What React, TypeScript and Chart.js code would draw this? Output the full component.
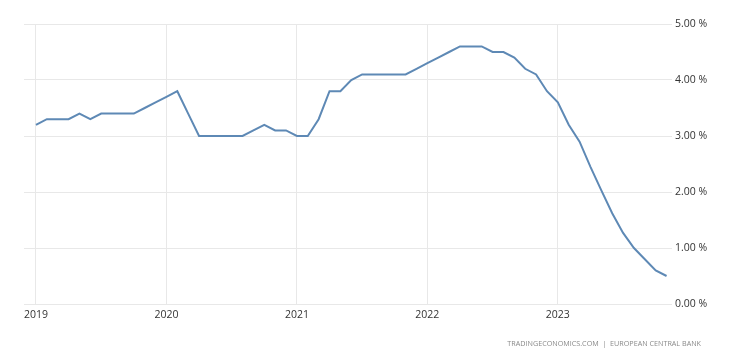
import React, { useEffect, useRef } from "react";
import { Chart, registerables } from "chart.js";

Chart.register(...registerables);

// Monthly observations starting January 2019 (index 0 = Jan 2019)
const startYear = 2019;
const rates: number[] = [
  3.2, 3.3, 3.3, 3.3, 3.4, 3.3, 3.4, 3.4, 3.4, 3.4, 3.5, 3.6, // 2019
  3.7, 3.8, 3.4, 3.0, 3.0, 3.0, 3.0, 3.0, 3.1, 3.2, 3.1, 3.1, // 2020
  3.0, 3.0, 3.3, 3.8, 3.8, 4.0, 4.1, 4.1, 4.1, 4.1, 4.1, 4.2, // 2021
  4.3, 4.4, 4.5, 4.6, 4.6, 4.6, 4.5, 4.5, 4.4, 4.2, 4.1, 3.8, // 2022
  3.6, 3.2, 2.9, 2.45, 2.03, 1.62, 1.27, 1.0, 0.8, 0.6, 0.5,  // 2023
];
const yearTicks: number[] = [2019, 2020, 2021, 2022, 2023];
const yTicks: number[] = [0, 1, 2, 3, 4, 5];
const sourceText = "TRADINGECONOMICS.COM  |  EUROPEAN CENTRAL BANK";

export default function App() {
  const ref = useRef<HTMLCanvasElement | null>(null);
  useEffect(() => {
    if (!ref.current) return;
    const points = rates.map((v, i) => ({ x: i, y: v }));
    const chart = new Chart(ref.current, {
      type: "line",
      data: {
        datasets: [
          {
            data: points,
            borderColor: "#5e89b5",
            borderWidth: 2,
            pointRadius: 0,
            tension: 0,
            fill: false,
          },
        ],
      },
      options: {
        animation: false,
        responsive: false,
        maintainAspectRatio: false,
        layout: { padding: { left: 24, right: 20, top: 24, bottom: 30 } },
        plugins: { legend: { display: false }, tooltip: { enabled: false } },
        scales: {
          x: {
            type: "linear",
            min: -1.1,
            max: 58.5,
            afterBuildTicks: (scale: any) => {
              scale.ticks = yearTicks.map((y) => ({ value: (y - startYear) * 12 }));
            },
            afterFit: (scale: any) => {
              scale.height = 30;
            },
            grid: { color: "#e8e8e8", drawTicks: false, lineWidth: 1 },
            border: { display: false },
            ticks: {
              padding: 5,
              color: "#333",
              font: { family: "Open Sans", size: 10.5 },
              callback: (v: any) => String(startYear + Math.round(Number(v) / 12)),
              maxRotation: 0,
              autoSkip: false,
            },
          },
          y: {
            position: "right",
            min: 0,
            max: 5,
            afterBuildTicks: (scale: any) => {
              scale.ticks = yTicks.map((v) => ({ value: v }));
            },
            afterFit: (scale: any) => {
              scale.width = 40;
            },
            grid: { color: "#e8e8e8", drawTicks: false, lineWidth: 1 },
            border: { display: false },
            ticks: {
              padding: 3,
              color: "#333",
              font: { family: "Open Sans", size: 10.5 },
              callback: (v: any) => Number(v).toFixed(2) + " %",
            },
          },
        },
      },
    });
    return () => chart.destroy();
  }, []);
  return (
    <div style={{ position: "fixed", left: 0, top: 0, width: 732, height: 364, background: "#fff" }}>
      <canvas ref={ref} width={732} height={364} style={{ display: "block" }} />
      <div
        style={{
          position: "absolute",
          right: 31,
          top: 338,
          fontFamily: "Open Sans",
          fontSize: 7.2,
          color: "#8a8a8a",
          whiteSpace: "pre",
        }}
      >
        {sourceText}
      </div>
    </div>
  );
}
